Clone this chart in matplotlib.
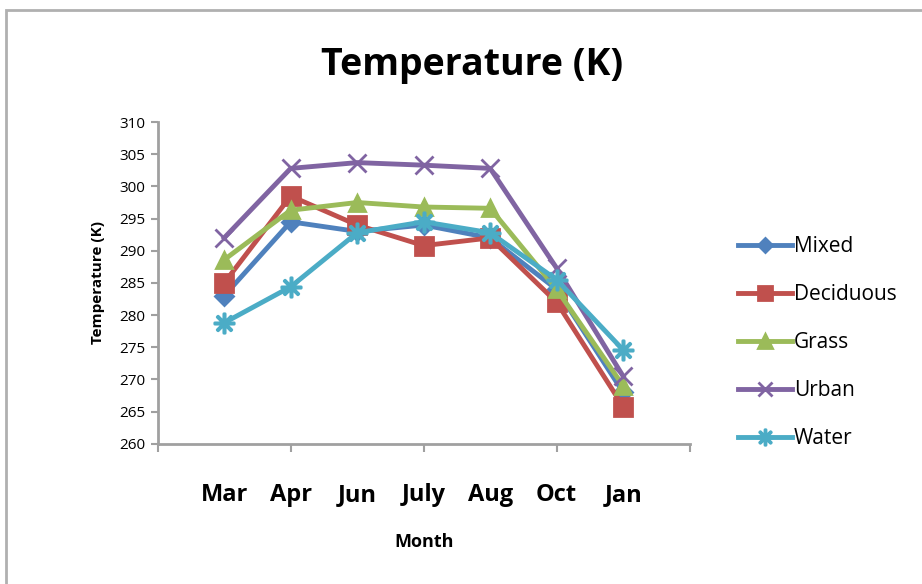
import numpy as np
import matplotlib.pyplot as plt
from matplotlib.patches import Rectangle

months = ['Mar', 'Apr', 'Jun', 'July', 'Aug', 'Oct', 'Jan']
mixed = [283, 294.5, 293, 294, 292, 284, 268]
deciduous = [285, 298.5, 294, 290.8, 292, 282, 265.8]
grass = [288.6, 296.3, 297.5, 296.8, 296.6, 284, 269]
urban = [292, 302.8, 303.7, 303.3, 302.8, 287.3, 270.5]
water = [278.8, 284.4, 292.8, 294.5, 292.8, 285.5, 274.6]

series = [
    ('Mixed', mixed, '#4F81BD', 'D', 9),
    ('Deciduous', deciduous, '#C0504D', 's', 13),
    ('Grass', grass, '#9BBB59', '^', 12),
    ('Urban', urban, '#8064A2', 'x', 13),
    ('Water', water, '#4BACC6', '$\u2733$', 14),
]

plt.rcParams['font.family'] = ['Open Sans', 'DejaVu Sans']

fig = plt.figure(figsize=(9.22, 5.84), dpi=100)
fig.patches.append(Rectangle((0.006, -0.01), 1.1, 0.993, transform=fig.transFigure,
                             fill=False, edgecolor='#b0b0b0', linewidth=2))
ax = fig.add_axes([0.171, 0.240, 0.577, 0.551])

x = np.arange(1, len(months) + 1)
for name, vals, col, mk, ms in series:
    ax.plot(x, vals, color=col, linewidth=3.5, marker=mk, markersize=ms,
            markeredgecolor=col, markeredgewidth=2, label=name)

ax.set_xlim(0, 8)
ax.set_ylim(260, 310)
ax.set_yticks(np.arange(260, 311, 5))
ax.set_xticks([0, 2, 4, 6, 8])
ax.set_xticklabels([])
for xi, m in zip(x, months):
    ax.text(xi, 252.0, m, ha='center', va='center', fontsize=17, fontweight='bold')
ax.tick_params(axis='y', labelsize=11, length=5, width=1.5, color='#a0a0a0', pad=4)
ax.tick_params(axis='x', length=6, width=1.5, color='#a0a0a0')
for s in ['top', 'right']:
    ax.spines[s].set_visible(False)
for s in ['left', 'bottom']:
    ax.spines[s].set_color('#a0a0a0')
    ax.spines[s].set_linewidth(2)

ax.set_ylabel('Temperature (K)', fontsize=11, fontweight='bold', labelpad=10)
ax.text(4, 244.8, 'Month', ha='center', va='center', fontsize=13, fontweight='bold')
fig.text(0.512, 0.888, 'Temperature (K)', ha='center', va='center', fontsize=27, fontweight='bold')

ax.legend(loc='center left', bbox_to_anchor=(1.055, 0.315), frameon=False, fontsize=15,
          labelspacing=1.3, handlelength=2.6, handletextpad=0.1, markerscale=0.8)

fig.savefig('out.png', dpi=100)
